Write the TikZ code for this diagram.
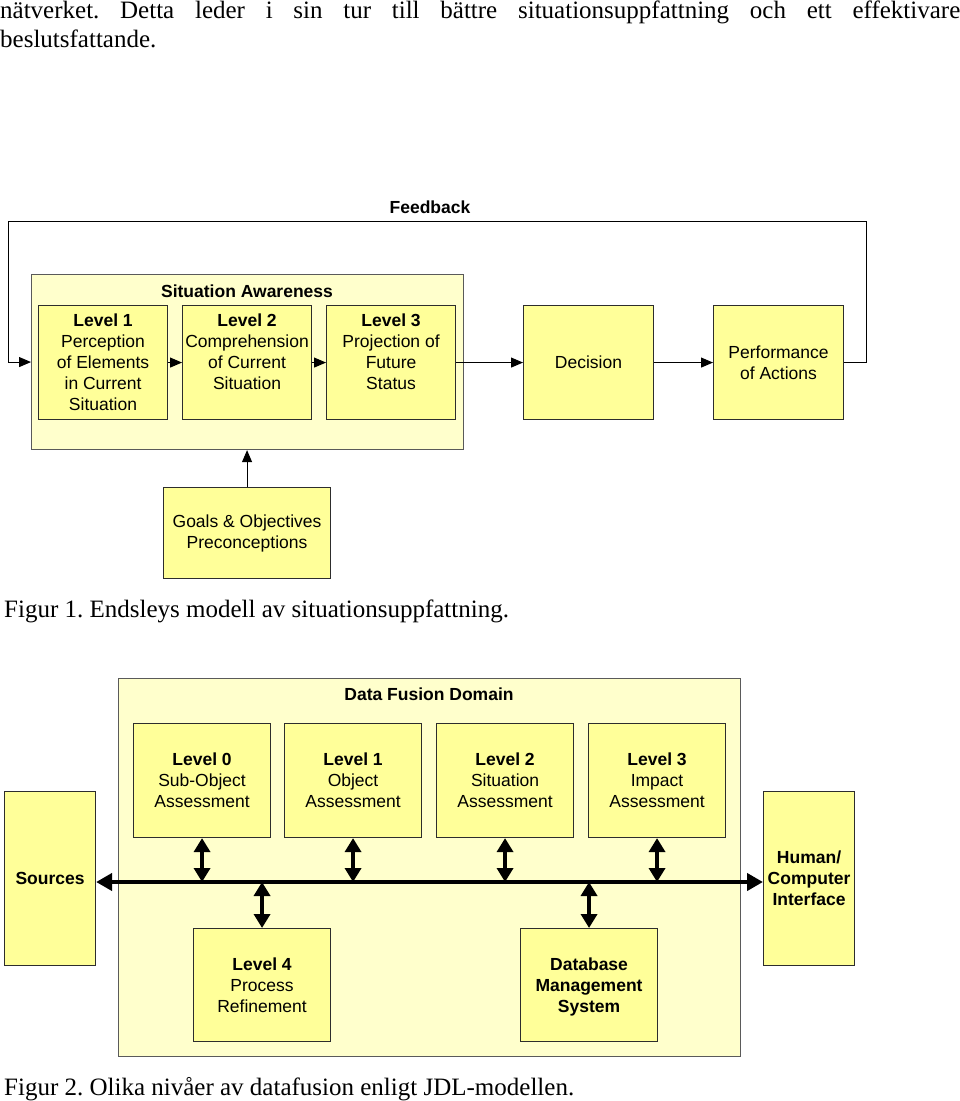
\documentclass[tikz,border=0pt]{standalone}
\usepackage{fontspec}
\setmainfont{Liberation Serif}
\setsansfont{Liberation Sans}
\usetikzlibrary{arrows.meta}
\frenchspacing
\definecolor{boxyellow}{RGB}{255,255,153}
\definecolor{paleyellow}{RGB}{255,255,204}
\definecolor{edge}{RGB}{45,45,45}
\definecolor{paleedge}{RGB}{90,90,90}
\tikzset{
  ybox/.style={draw=edge, fill=boxyellow, line width=1.1pt, rectangle, inner sep=0pt, anchor=north west},
  pbox/.style={draw=paleedge, fill=paleyellow, line width=1.1pt, rectangle, inner sep=0pt, anchor=north west},
  lbl/.style={font=\fontsize{17.5}{21}\selectfont\sffamily, align=center, inner sep=0pt},
  blbl/.style={font=\fontsize{17.5}{21}\selectfont\sffamily\bfseries, align=center, inner sep=0pt},
  serif/.style={font=\fontsize{25}{29}\selectfont\rmfamily\frenchspacing, inner sep=0pt, anchor=base west},
  thinarr/.style={draw=black, line width=1pt, -{Triangle[length=12pt,width=10pt]}},
  busarr/.style={draw=black, line width=4pt, {Triangle[length=16pt,width=17pt]}-{Triangle[length=16pt,width=17pt]}},
  dblarr/.style={draw=black, line width=3.5pt, {Triangle[length=14pt,width=16pt]}-{Triangle[length=14pt,width=16pt]}},
}
\begin{document}
\begin{tikzpicture}[x=1pt,y=-1pt]
\useasboundingbox (0,0) rectangle (960,1101);

% running text
\node[serif] (para1) at (0,18) {\makebox[960pt][s]{nätverket. Detta leder i sin tur till bättre situationsuppfattning och ett effektivare}};
\node[serif] (para2) at (0,47) {beslutsfattande.};

% ---------- Figure 1 ----------
\node[blbl] (fbl) at (430,207) {Feedback};
\node[pbox, minimum width=432pt, minimum height=175pt] (sa) at (31,274) {};
\node[blbl] (satitle) at (247,291) {Situation Awareness};

\node[ybox, minimum width=129pt, minimum height=114pt] (l1) at (38,305) {};
\node[ybox, minimum width=129pt, minimum height=114pt] (l2) at (182,305) {};
\node[ybox, minimum width=129pt, minimum height=114pt] (l3) at (326,305) {};
\node[ybox, minimum width=130pt, minimum height=114pt] (dec) at (523,305) {};
\node[ybox, minimum width=130pt, minimum height=114pt] (perf) at (713,305) {};
\node[ybox, minimum width=167pt, minimum height=91pt] (goals) at (163,487) {};

\node[lbl] (l1t) at (l1.center) {\textbf{Level 1}\\Perception\\of Elements\\in Current\\Situation};
\node[lbl, anchor=north] (l2t) at ([yshift=-9pt]l2.north) {\textbf{Level 2}\\Comprehension\\of Current\\Situation};
\node[lbl, anchor=north] (l3t) at ([yshift=-9pt]l3.north) {\textbf{Level 3}\\Projection of\\Future\\Status};
\node[lbl] (dect) at (dec.center) {Decision};
\node[lbl] (perft) at (perf.center) {Performance\\of Actions};
\node[lbl] (goalst) at ([yshift=-0.5pt]goals.center) {Goals \& Objectives\\Preconceptions};

\draw[thinarr] (l1.east) -- (l2.west);
\draw[thinarr] (l2.east) -- (l3.west);
\draw[thinarr] (l3.east) -- (dec.west);
\draw[thinarr] (dec.east) -- (perf.west);
\draw[thinarr] (goals.north) -- (goals.north |- sa.south);
\draw[thinarr] (perf.east) -- ++(22,0) |- (8,221) |- (sa.west);

\node[serif] (cap1) at (4,617) {Figur 1. Endsleys modell av situationsuppfattning.};

% ---------- Figure 2 ----------
\node[pbox, minimum width=622pt, minimum height=378pt] (dom) at (118,678) {};
\node[blbl] (domt) at (429,694) {Data Fusion Domain};

\node[ybox, minimum width=137pt, minimum height=114pt] (f0) at (133,723) {};
\node[ybox, minimum width=137pt, minimum height=114pt] (f1) at (284,723) {};
\node[ybox, minimum width=137pt, minimum height=114pt] (f2) at (436,723) {};
\node[ybox, minimum width=137pt, minimum height=114pt] (f3) at (588,723) {};
\node[ybox, minimum width=91pt, minimum height=174pt] (src) at (4,791) {};
\node[ybox, minimum width=91pt, minimum height=174pt] (hci) at (763,791) {};
\node[ybox, minimum width=137pt, minimum height=113pt] (f4) at (193,928) {};
\node[ybox, minimum width=137pt, minimum height=113pt] (dbm) at (520,928) {};

\node[lbl] (f0t) at (f0.center) {\textbf{Level 0}\\Sub-Object\\Assessment};
\node[lbl] (f1t) at (f1.center) {\textbf{Level 1}\\Object\\Assessment};
\node[lbl] (f2t) at (f2.center) {\textbf{Level 2}\\Situation\\Assessment};
\node[lbl] (f3t) at (f3.center) {\textbf{Level 3}\\Impact\\Assessment};
\node[blbl] (srct) at (src.center) {Sources};
\node[blbl] (hcit) at (hci.center) {Human/\\Computer\\Interface};
\node[lbl] (f4t) at (f4.center) {\textbf{Level 4}\\Process\\Refinement};
\node[blbl] (dbmt) at ([yshift=-1.5pt]dbm.center) {Database\\Management\\System};

\coordinate (busy) at (480,882);
\draw[busarr] (src.east |- busy) -- (hci.west |- busy);
\draw[dblarr] (f0.south) -- (f0.south |- busy);
\draw[dblarr] (f1.south) -- (f1.south |- busy);
\draw[dblarr] (f2.south) -- (f2.south |- busy);
\draw[dblarr] (f3.south) -- (f3.south |- busy);
\draw[dblarr] (f4.north) -- (f4.north |- busy);
\draw[dblarr] (dbm.north) -- (dbm.north |- busy);

\node[serif] (cap2) at (4,1095) {Figur 2. Olika nivåer av datafusion enligt JDL-modellen.};
\end{tikzpicture}
\end{document}
